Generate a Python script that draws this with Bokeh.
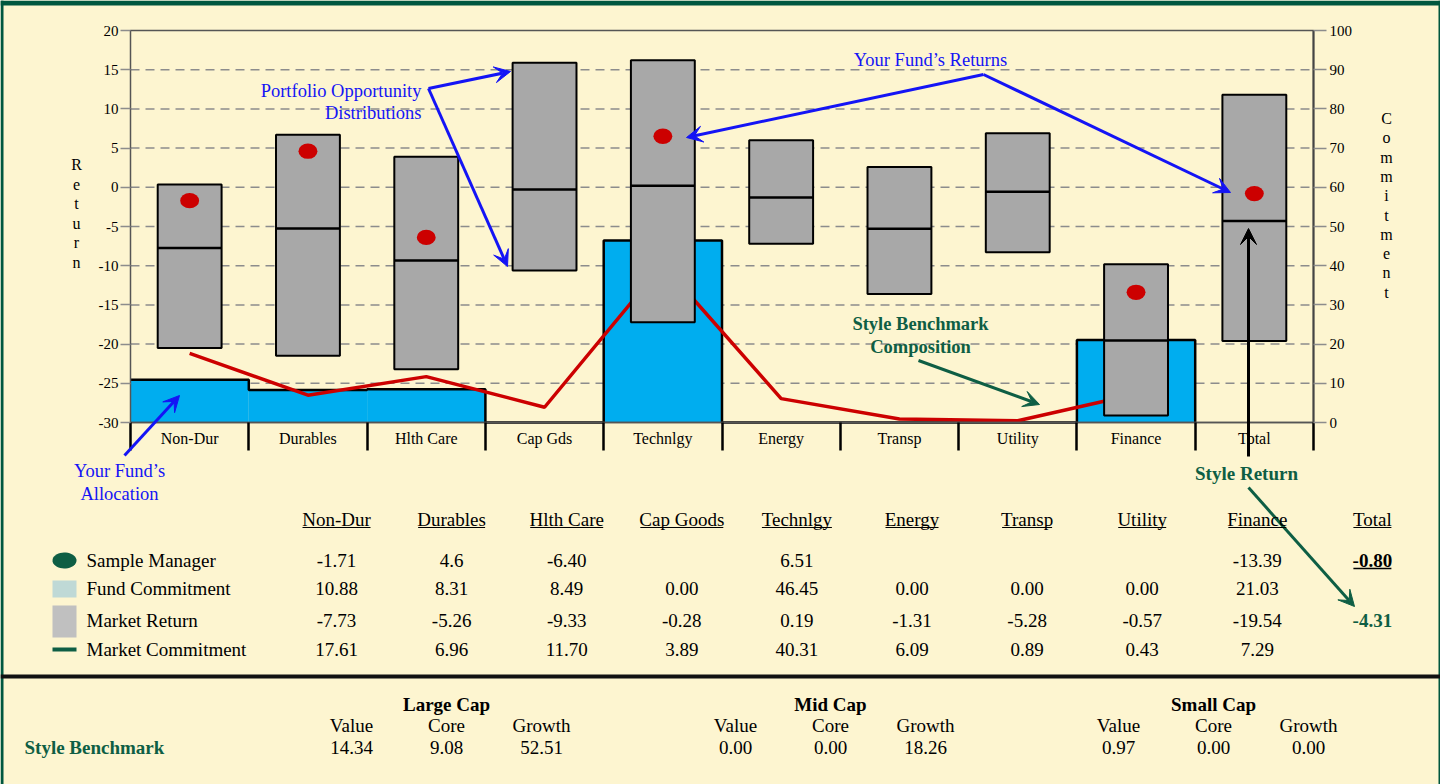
import numpy as np
from bokeh.plotting import figure
from bokeh.models import (Range1d, LinearAxis, FixedTicker, Label, Arrow, VeeHead,
                          BoxAnnotation, PolyAnnotation)
from bokeh.embed import file_html
from bokeh.resources import INLINE

# ---------------- data ----------------
categories = ["Non-Dur", "Durables", "Hlth Care", "Cap Gds", "Technlgy",
              "Energy", "Transp", "Utility", "Finance", "Total"]
opp_high = [0.35, 6.7, 3.9, 15.9, 16.2, 6.0, 2.6, 6.9, -9.8, 11.8]
opp_low = [-20.5, -21.5, -23.2, -10.6, -17.2, -7.2, -13.6, -8.3, -29.1, -19.6]
market_return = [-7.73, -5.26, -9.33, -0.28, 0.19, -1.31, -5.28, -0.57, -19.54, -4.31]
fund_return = [-1.71, 4.6, -6.40, np.nan, 6.51, np.nan, np.nan, np.nan, -13.39, -0.80]
fund_commit = [10.88, 8.31, 8.49, 0.00, 46.45, 0.00, 0.00, 0.00, 21.03]
market_commit = [17.61, 6.96, 11.70, 3.89, 40.31, 6.09, 0.89, 0.43, 7.29]
return_ticks = [-30, -25, -20, -15, -10, -5, 0, 5, 10, 15, 20]
grid_ticks = [-25, -20, -15, -10, -5, 0, 5, 10, 15]
commit_ticks = [0, 10, 20, 30, 40, 50, 60, 70, 80, 90, 100]

table_headers = ["Non-Dur", "Durables", "Hlth Care", "Cap Goods", "Technlgy",
                 "Energy", "Transp", "Utility", "Finance", "Total"]
manager_labels = ["-1.71", "4.6", "-6.40", "", "6.51", "", "", "", "-13.39"]
row_names = ["Sample Manager", "Fund Commitment", "Market Return", "Market Commitment"]
total_manager = "-0.80"
total_style = "-4.31"

style_groups = ["Large Cap", "Mid Cap", "Small Cap"]
style_subs = ["Value", "Core", "Growth"]
style_values = [[14.34, 9.08, 52.51], [0.00, 0.00, 18.26], [0.97, 0.00, 0.00]]

# ---------------- layout / style ----------------
W, H = 1440, 784
PX_L, PX_R, PX_T, PX_B = 130, 1313, 30, 422     # chart box on the canvas
FONT = "Liberation Serif"
BG = "#FDF5D0"
DKGREEN = "#00573F"
GREEN = "#0E5E44"
BLUE = "#1414F5"
CYAN = "#00ADEF"
GRAY = "#A8A8A8"
RED = "#CC0000"

n = len(categories)
centers = np.arange(n) + 0.5
bounds = np.arange(n + 1)
r_lo, r_hi = return_ticks[0], return_ticks[-1]
c_lo, c_hi = commit_ticks[0], commit_ticks[-1]

xu = (PX_R - PX_L) / n
yu = (PX_B - PX_T) / (r_hi - r_lo)
cu = (PX_B - PX_T) / (c_hi - c_lo)

p = figure(width=W, height=H,
           x_range=Range1d(-PX_L / xu, n + (W - PX_R) / xu),
           y_range=Range1d(r_lo - (H - PX_B) / yu, r_hi + PX_T / yu),
           output_backend="svg", toolbar_location=None,
           x_axis_location=None, y_axis_location=None,
           min_border=0, min_border_left=0, min_border_right=0,
           min_border_top=0, min_border_bottom=0,
           background_fill_color=BG, border_fill_color=BG)
p.outline_line_color = None
p.grid.visible = False
p.extra_y_ranges = {"commit": Range1d(c_lo - (H - PX_B) / cu, c_hi + PX_T / cu)}

# ---- axes fixed at the chart box edges ----
ya = LinearAxis(fixed_location=0, bounds=(r_lo, r_hi), ticker=FixedTicker(ticks=return_ticks),
                major_label_overrides={t: str(t) for t in return_ticks})
ya.major_tick_out = 10
ya.major_tick_in = 0
ya.major_tick_line_color = "#8C8C8C"
ya.major_tick_line_width = 1.5
ya.major_label_standoff = 2
ya.axis_line_color = "#555555"
p.add_layout(ya, "left")

ra = LinearAxis(y_range_name="commit", fixed_location=n, bounds=(c_lo, c_hi),
                ticker=FixedTicker(ticks=commit_ticks))
ra.major_tick_out = 13
ra.major_tick_in = 0
ra.major_tick_line_color = "#8C8C8C"
ra.major_tick_line_width = 1.5
ra.major_label_standoff = 3
ra.axis_line_color = "#444444"
ra.axis_line_width = 2
p.add_layout(ra, "right")

sep = LinearAxis(fixed_location=r_lo, bounds=(0, n), ticker=FixedTicker(ticks=list(bounds)))
sep.major_tick_out = 28
sep.major_tick_in = 0
sep.major_tick_line_width = 2.5
sep.major_tick_line_color = "black"
sep.major_label_text_color = None
sep.axis_line_color = "#555555"
sep.axis_line_width = 1.5
p.add_layout(sep, "below")

xa = LinearAxis(fixed_location=r_lo, bounds=(0, n), ticker=FixedTicker(ticks=list(centers)),
                major_label_overrides={float(c): name for c, name in zip(centers, categories)})
xa.major_tick_out = 0
xa.major_tick_in = 0
xa.major_tick_line_color = None
xa.major_label_standoff = 7
xa.axis_line_color = None
p.add_layout(xa, "below")

for ax, fs in ((xa, "16px"), (ya, "15px"), (ra, "15px")):
    ax.major_label_text_font = FONT
    ax.major_label_text_font_size = fs
    ax.major_label_text_color = "black"

# ---- chart glyphs ----
p.segment(x0=[0] * len(grid_ticks), x1=[n] * len(grid_ticks), y0=grid_ticks, y1=grid_ticks,
          line_color="#8C8C8C", line_dash="9 6", line_width=1.5)
sec_x = centers[:len(fund_commit)]
p.vbar(x=sec_x, width=1.0, top=fund_commit, bottom=0, y_range_name="commit",
       fill_color=CYAN, line_color=None)
p.step(x=list(bounds[:len(fund_commit) + 1]), y=list(fund_commit) + [0.0], mode="after",
       y_range_name="commit", line_color="black", line_width=2.5)
p.line(x=centers[:len(market_commit)], y=market_commit, y_range_name="commit",
       line_color=RED, line_width=3.5)
box_w = 0.54
p.vbar(x=centers, width=box_w, top=opp_high, bottom=opp_low,
       fill_color=GRAY, line_color="black", line_width=2)
p.segment(x0=centers - box_w / 2, x1=centers + box_w / 2, y0=market_return,
          y1=market_return, line_color="black", line_width=2.5)
p.ellipse(x=centers, y=fund_return, width=0.16, height=1.95,
          fill_color=RED, line_color=None)
p.quad(left=[0], right=[n], bottom=[r_lo], top=[r_hi], fill_color=None,
       line_color="#555555", line_width=1.5)


# ---------------- annotations (canvas pixels, top-left origin) ----------------
def text(cx, cy, s, size=19, color="black", bold=False, align="center"):
    p.add_layout(Label(x=cx, y=H - cy, x_units="screen", y_units="screen", text=s,
                       text_font=FONT, text_font_size=f"{size}px", text_color=color,
                       text_font_style="bold" if bold else "normal",
                       text_align=align, text_baseline="middle"))


def arrow(x0, y0, x1, y1, color, width=3.0, head=True):
    p.add_layout(Arrow(x_start=x0, y_start=H - y0, x_end=x1, y_end=H - y1,
                       start_units="screen", end_units="screen",
                       line_color=color, line_width=width,
                       end=VeeHead(size=16, fill_color=color, line_color=color) if head else None))


def box(x0, y0, x1, y1, color):
    p.add_layout(BoxAnnotation(left=x0, right=x1, top=H - y0, bottom=H - y1,
                               left_units="screen", right_units="screen",
                               top_units="screen", bottom_units="screen",
                               fill_color=color, fill_alpha=1.0, line_color=None,
                               level="overlay"))


# page borders
box(0, 0, W, 5, DKGREEN)
box(0, 0, 3, H, DKGREEN)
box(W - 2, 0, W, H, DKGREEN)
box(0, 674, W, 678, "#111111")

# vertical axis titles
for i, ch in enumerate("Return"):
    text(76, 164 + i * 19.6, ch, size=16)
for i, ch in enumerate("Commitment"):
    text(1386, 118 + i * 19.3, ch, size=16)

# chart call-outs
AS = 18.5
text(421, 90, "Portfolio Opportunity", size=AS, color=BLUE, align="right")
text(421, 112, "Distributions", size=AS, color=BLUE, align="right")
arrow(428, 88, 510, 71, BLUE)
arrow(428, 88, 507, 266, BLUE)
text(930, 59, "Your Fund\u2019s Returns", size=AS, color=BLUE)
arrow(983, 74, 686, 137, BLUE)
arrow(983, 74, 1230, 192, BLUE)
text(119, 470, "Your Fund\u2019s", size=AS, color=BLUE)
text(119, 493, "Allocation", size=AS, color=BLUE)
arrow(124, 455, 179, 395, BLUE)
text(920, 323, "Style Benchmark", size=AS, color=GREEN, bold=True)
text(920, 346, "Composition", size=AS, color=GREEN, bold=True)
arrow(918, 360, 1039, 404, GREEN)
text(1246, 473, "Style Return", size=19, color=GREEN, bold=True)
arrow(1248, 456, 1248, 228, "black")
arrow(1248, 487, 1354, 606, GREEN)

# ---------------- table ----------------
col_x0, col_dx = 336, 115.1
header_y = 519
row_y = [560, 588, 620, 649]
header_ul = [68, 67, 73, 83, 70, 53, 50, 48, 58, 38]
for i, h in enumerate(table_headers):
    cx = col_x0 + i * col_dx
    text(cx, header_y, h)
    arrow(cx - header_ul[i] / 2, 527, cx + header_ul[i] / 2, 527, "black", width=1.2, head=False)

for j, name in enumerate(row_names):
    text(86, row_y[j], name, align="left")

rows = [manager_labels,
        [f"{v:.2f}" for v in fund_commit],
        [f"{v:.2f}" for v in market_return[:len(fund_commit)]],
        [f"{v:.2f}" for v in market_commit]]
for j, vals in enumerate(rows):
    for i, s in enumerate(vals):
        if s:
            text(col_x0 + i * col_dx, row_y[j], s)

tx = col_x0 + 9 * col_dx
text(tx, row_y[0], total_manager, bold=True)
arrow(tx - 19, 568, tx + 19, 568, "black", width=1.5, head=False)
text(tx, row_y[2], total_style, color=GREEN, bold=True)

# legend markers
th = np.linspace(0, 2 * np.pi, 40)
p.add_layout(PolyAnnotation(xs=list(64 + 12 * np.cos(th)), ys=list(H - (560 + 8 * np.sin(th))),
                            xs_units="screen", ys_units="screen",
                            fill_color=GREEN, fill_alpha=1.0, line_color=None))
box(52, 580, 76, 597, "#BFD9D6")
box(52, 605, 76, 637, "#C0C0C0")
box(52, 647, 76, 651, GREEN)

# ---------------- style benchmark panel ----------------
group_x = [446, 830, 1213]
sub_dx = 95
text(24, 747, "Style Benchmark", color=GREEN, bold=True, align="left")
for g, gname in enumerate(style_groups):
    text(group_x[g], 704, gname, bold=True)
    for k, sname in enumerate(style_subs):
        cx = group_x[g] + (k - 1) * sub_dx
        text(cx, 725, sname)
        text(cx, 747, f"{style_values[g][k]:.2f}")

open("out.html", "w").write(file_html(p, INLINE))
